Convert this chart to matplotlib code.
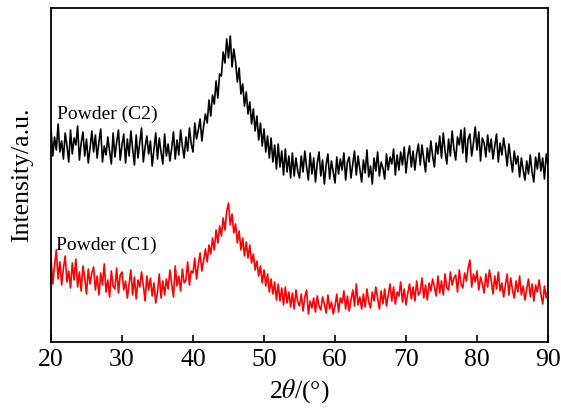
import numpy as np
import matplotlib
matplotlib.use('Agg')
import matplotlib.pyplot as plt

plt.rcParams['font.family'] = ['Liberation Serif', 'DejaVu Serif']
plt.rcParams['mathtext.fontset'] = 'stix'

# 2theta grid, 0.25 deg step from 20 to 90
two_theta = np.linspace(20, 90, 281)

# intensity (a.u.), one row per degree
powder_c2 = [
    214, 186, 205, 192,  218, 190, 201, 183,  209, 196, 180, 212,  188, 204, 197, 216,
    182, 199, 210, 186,  203, 179, 194, 211,  190, 207, 184, 200,  213, 180, 196, 187,
    205, 191, 178, 209,  185, 200, 212, 182,  197, 208, 179, 203,  186, 211, 193, 177,
    207, 184, 199, 214,  180, 195, 206, 188,  201, 176, 192, 209,  183, 204, 190, 178,
    208, 186, 198, 181,  194, 210, 183, 202,  187, 212, 196, 184,  205, 191, 214, 198,
    190, 219, 203, 212,  223, 201, 216, 228,  219, 242, 226, 247,  238, 261, 244, 268,
    266, 290, 279, 303,  284, 306, 275, 293,  280, 260, 274, 248,  258, 236, 250, 228,
    240, 218, 233, 211,  226, 202, 219, 196,  213, 190, 206, 184,  204, 180, 197, 173,
    198, 175, 191, 167,  193, 170, 186, 164,  189, 166, 184, 171,  164, 186, 170, 191,
    175, 162, 189, 168,  184, 160, 179, 190,  166, 182, 158, 177,  188, 163, 181, 170,
    159, 185, 168, 183,  172, 189, 162, 180,  185, 164, 178, 191,  167, 186, 173, 160,
    182, 169, 192, 165,  176, 158, 184, 171,  190, 166, 180, 174,  163, 188, 172, 185,
    178, 193, 167, 187,  172, 190, 177, 195,  169, 186, 196, 175,  191, 172, 188, 198,
    177, 197, 183, 170,  194, 180, 201, 186,  175, 199, 188, 206,  184, 209, 191, 178,
    203, 186, 211, 193,  182, 205, 197, 212,  189, 214, 180, 203,  208, 186, 199, 215,
    192, 210, 181, 204,  199, 185, 207, 190,  203, 183, 196, 208,  180, 199, 187, 204,
    192, 176, 198, 183,  170, 191, 178, 186,  165, 184, 172, 162,  181, 168, 187, 170,
    160, 185, 173, 189,  171, 184, 163, 188,  176,
]

powder_c1 = [
    84, 58, 77, 92,  63, 80, 57, 74,  86, 60, 71, 54,  79, 62, 83, 55,
    70, 51, 76, 64,  48, 73, 58, 69,  75, 52, 66, 47,  69, 57, 78, 50,
    62, 45, 71, 56,  53, 74, 49, 67,  70, 52, 61, 44,  58, 72, 47, 65,
    43, 62, 55, 70,  57, 41, 66, 52,  64, 46, 59, 39,  50, 68, 44, 61,
    47, 63, 53, 72,  58, 45, 76, 56,  66, 51, 73, 59,  62, 80, 57, 71,
    69, 84, 63, 78,  89, 71, 82, 93,  80, 97, 88, 104,  92, 112, 99, 116,
    106, 124, 112, 131,  139, 117, 128, 109,  118, 99, 111, 92,  104, 86, 100, 84,
    97, 79, 88, 72,  81, 66, 76, 59,  72, 56, 68, 50,  63, 48, 60, 42,
    58, 41, 54, 37,  55, 39, 50, 35,  49, 33, 52, 40,  36, 48, 31, 45,
    52, 28, 41, 34,  44, 30, 46, 36,  32, 45, 38, 29,  47, 33, 40, 28,
    36, 48, 30, 44,  39, 51, 33, 46,  31, 42, 52, 36,  58, 37, 45, 33,
    48, 35, 53, 40,  34, 50, 41, 55,  44, 33, 51, 38,  53, 36, 47, 58,
    41, 55, 38, 50,  46, 60, 40, 53,  37, 49, 58, 43,  55, 41, 61, 47,
    50, 64, 44, 57,  42, 59, 51, 63,  55, 46, 66, 49,  61, 47, 68, 54,
    52, 70, 57, 64,  67, 50, 72, 58,  54, 69, 61, 74,  82, 55, 68, 60,
    71, 52, 65, 58,  49, 68, 55, 72,  62, 48, 66, 53,  70, 51, 59, 45,
    57, 68, 47, 64,  52, 44, 61, 50,  66, 47, 56, 42,  53, 63, 45, 58,
    41, 57, 50, 62,  48, 38, 56, 44,  52,
]

labels = ['Powder (C2)', 'Powder (C1)']

fig = plt.figure(figsize=(5.61, 4.08), dpi=100)
ax = fig.add_axes([51 / 561, 66 / 408, 497 / 561, 334 / 408])

ax.plot(two_theta, powder_c2, color='black', lw=1.2)
ax.plot(two_theta, powder_c1, color='red', lw=1.2)

ax.set_xlim(20, 90)
ax.set_ylim(0, 334)
ax.set_xticks(np.arange(20, 91, 10))
ax.set_yticks([])
ax.tick_params(axis='x', direction='in', length=5, width=1.2, labelsize=18.5, pad=5)
for sp in ax.spines.values():
    sp.set_linewidth(1.3)

ax.set_xlabel(r'2$\theta$/(°)', fontsize=18.5)
ax.xaxis.set_label_coords(0.5, -0.105)
ax.set_ylabel('Intensity/a.u.', fontsize=18.5)
ax.yaxis.set_label_coords(-0.036, 0.5)

ax.text(0.012, 0.668, labels[0], transform=ax.transAxes, fontsize=14, va='baseline')
ax.text(0.010, 0.275, labels[1], transform=ax.transAxes, fontsize=14, va='baseline')

fig.savefig('out.png', dpi=100)
